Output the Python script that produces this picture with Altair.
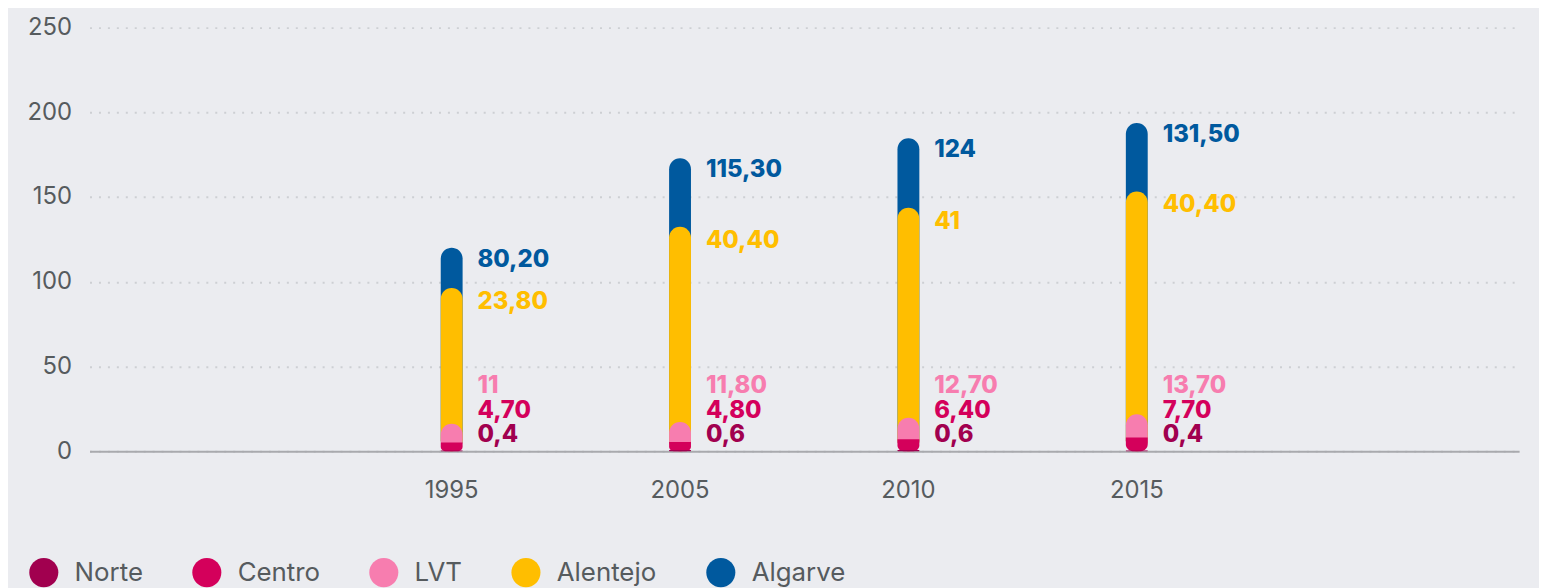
import altair as alt
import pandas as pd

years = ["1995", "2005", "2010", "2015"]
x_slots = [" "] + years + ["  "]   # empty slots either side, as in the reference layout
series = ["Norte", "Centro", "LVT", "Alentejo", "Algarve"]
colors = ["#A1004F", "#D4005B", "#F77DAF", "#FFBE00", "#00599E"]

# segment sizes as drawn (bottom to top)
norte = [0.4, 0.6, 0.6, 0.4]
centro = [4.7, 4.8, 6.4, 7.7]
lvt = [11, 11.8, 12.7, 13.7]
alentejo = [80.2, 115.3, 124, 131.5]
algarve = [23.8, 40.4, 41, 40.4]

# printed labels
lbl_norte = ["0,4", "0,6", "0,6", "0,4"]
lbl_centro = ["4,70", "4,80", "6,40", "7,70"]
lbl_lvt = ["11", "11,80", "12,70", "13,70"]
lbl_yellow = ["23,80", "40,40", "41", "40,40"]
lbl_blue = ["80,20", "115,30", "124", "131,50"]

y_ticks = [0, 50, 100, 150, 200, 250]

FONT = "Inter"
TEXT_GREY = "#565B5E"

seg = {"Norte": norte, "Centro": centro, "LVT": lvt, "Alentejo": alentejo, "Algarve": algarve}
rows = []
label_rows = []
for i, yr in enumerate(years):
    cum = 0
    tops = {}
    for s in series:
        cum += seg[s][i]
        tops[s] = cum
    for s in reversed(series):
        rows.append({"year": yr, "series": s, "top": tops[s],
                     "base": s in ("Norte", "Centro")})
    label_rows.append({
        "year": yr, "total": tops["Algarve"], "cum4": tops["Alentejo"], "zero": 0,
        "l_blue": lbl_blue[i], "l_yellow": lbl_yellow[i], "l_lvt": lbl_lvt[i],
        "l_centro": lbl_centro[i], "l_norte": lbl_norte[i],
    })
bars_df = pd.DataFrame(rows)
lab_df = pd.DataFrame(label_rows)

x_scale = alt.Scale(domain=x_slots, paddingInner=0, paddingOuter=0.13, align=0.33)
x_enc = alt.X(
    "year:N",
    scale=x_scale,
    axis=alt.Axis(title=None, labelAngle=0, labelFont=FONT, labelFontSize=24,
                  labelColor=TEXT_GREY, labelPadding=28, ticks=False,
                  domainColor="#A9AAAE", domainWidth=2, grid=False),
)
y_scale = alt.Scale(domain=[0, 250], nice=False)
y_enc = alt.Y("top:Q", scale=y_scale, stack=None,
              axis=alt.Axis(title=None, values=y_ticks, labelFont=FONT, labelFontSize=24,
                            labelColor=TEXT_GREY, labelPadding=18, ticks=False, domain=False,
                            grid=True, gridColor="#CDCFD3", gridDash=[2, 7], gridWidth=2))
color_enc = alt.Color("series:N", scale=alt.Scale(domain=series, range=colors),
                      legend=alt.Legend(orient="none", legendX=-61, legendY=533,
                                        direction="horizontal", title=None,
                                        symbolType="circle", symbolSize=855,
                                        symbolStrokeWidth=0, symbolOpacity=1,
                                        labelFont=FONT, labelFontSize=26,
                                        labelColor=TEXT_GREY, labelOffset=16,
                                        columnPadding=49, padding=0))

base = alt.Chart(bars_df).encode(
    x=x_enc, y=y_enc, color=color_enc,
    order=alt.Order("top:Q", sort="descending"),
)
bars_top = base.transform_filter("!datum.base").mark_bar(width=22, cornerRadius=11)
bars_low = base.transform_filter("datum.base").mark_bar(
    width=22, cornerRadiusBottomLeft=11, cornerRadiusBottomRight=11)

def lbl(field, yfield, color, dy):
    return alt.Chart(lab_df).mark_text(
        align="left", baseline="middle", dx=26, dy=dy, font=FONT,
        fontSize=24, fontWeight=800, color=color,
    ).encode(x=alt.X("year:N", scale=x_scale), y=alt.Y(f"{yfield}:Q"), text=f"{field}:N")

chart = alt.layer(
    bars_top,
    bars_low,
    lbl("l_blue", "total", colors[4], 12),
    lbl("l_yellow", "cum4", colors[3], 14),
    lbl("l_lvt", "zero", colors[2], -65),
    lbl("l_centro", "zero", colors[1], -40),
    lbl("l_norte", "zero", colors[0], -16),
).properties(
    width=1438, height=426,
    padding={"left": 82, "top": 18, "right": 20, "bottom": 150},
    autosize=alt.AutoSizeParams(type="none"),
    background="#EBECF0",
).configure_view(stroke=None)

chart.save("out.html", embed_options={"renderer": "svg", "actions": False})
